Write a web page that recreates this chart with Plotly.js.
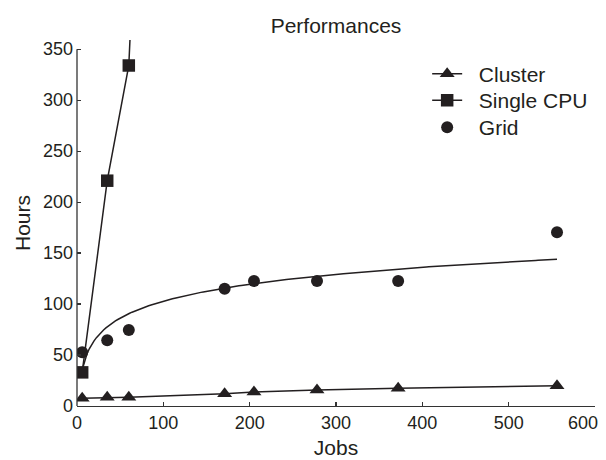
<!DOCTYPE html>
<html><head><meta charset="utf-8">
<script src="https://cdn.plot.ly/plotly-3.0.1.min.js"></script>
<style>body{margin:0;background:#fff}</style></head>
<body><div id="chart" style="width:606px;height:460px"></div>
<script>
// Data
const jobs = [6, 35, 60, 171, 205, 278, 372, 556];
const clusterHours = [7.5, 8.5, 8.7, 12, 13.7, 15.7, 17.5, 19.8];
const singleJobs = [6, 35, 60, 171];
const singleHours = [33, 221, 334, 2400];
const gridHours = [52.7, 64.5, 74.6, 115, 122.5, 122.5, 122.5, 170.5];
const seriesNames = ['Cluster', 'Single CPU', 'Grid'];
const xTicks = [0, 100, 200, 300, 400, 500, 600];
const yTicks = [0, 50, 100, 150, 200, 250, 300, 350];
// the last x label is kept inside the picture, as in the reference
const xTickText = xTicks.map((v, i) => i === xTicks.length - 1 ? '' : String(v));
const lastXTick = xTicks[xTicks.length - 1];

// Logarithmic trend line fitted to the Grid series
function logFit(xs, ys) {
  const lx = xs.map(Math.log);
  const n = xs.length;
  const mx = lx.reduce((a, b) => a + b, 0) / n;
  const my = ys.reduce((a, b) => a + b, 0) / n;
  let sxy = 0, sxx = 0;
  for (let i = 0; i < n; i++) { sxy += (lx[i] - mx) * (ys[i] - my); sxx += (lx[i] - mx) ** 2; }
  const b = sxy / sxx, a = my - b * mx;
  const x0 = Math.min(...xs), x1 = Math.max(...xs);
  const fx = [], fy = [];
  for (let i = 0; i <= 200; i++) { const x = x0 + (x1 - x0) * i / 200; fx.push(x); fy.push(a + b * Math.log(x)); }
  return {fx, fy};
}
const fit = logFit(jobs, gridHours);

const ink = '#231f20';
const font = 'Liberation Sans, Arial, Helvetica, sans-serif';
const pad = '\u00a0\u00a0';

const traces = [
  {x: jobs, y: clusterHours, name: pad + seriesNames[0], type: 'scatter', mode: 'lines+markers', legend: 'legend',
   line: {color: ink, width: 1.5}, marker: {symbol: 'triangle-up', size: 13, color: ink}},
  {x: singleJobs, y: singleHours, name: pad + seriesNames[1], type: 'scatter', mode: 'lines+markers', legend: 'legend2',
   line: {color: ink, width: 1.5}, marker: {symbol: 'square', size: 12.5, color: ink}},
  {x: fit.fx, y: fit.fy, type: 'scatter', mode: 'lines', showlegend: false, hoverinfo: 'skip',
   line: {color: ink, width: 1.5}},
  {x: jobs, y: gridHours, name: pad + seriesNames[2], type: 'scatter', mode: 'markers', legend: 'legend3',
   marker: {symbol: 'circle', size: 12, color: ink}}
];

function leg(yc) {
  return {x: 0.676, y: yc, xanchor: 'left', yanchor: 'middle', bgcolor: 'rgba(0,0,0,0)',
          font: {size: 21, family: font, color: ink}};
}

const layout = {
  width: 606, height: 460,
  margin: {l: 77, r: 11, t: 40, b: 54},
  paper_bgcolor: '#fff', plot_bgcolor: '#fff',
  font: {family: font, color: ink, size: 18},
  title: {text: 'Performances', font: {size: 21, family: font, color: ink}, x: 0.5, xref: 'paper', y: 0.945, yanchor: 'middle'},
  xaxis: {range: [0, 600], tickvals: xTicks, ticktext: xTickText, ticks: 'inside', ticklen: 4, tickwidth: 1.2, tickcolor: '#333',
          showline: true, linecolor: '#333', linewidth: 1.3, showgrid: false, zeroline: false,
          tickfont: {size: 18}, title: {text: 'Jobs', font: {size: 21}, standoff: 8}},
  yaxis: {range: [0, 359], tickvals: yTicks, ticks: 'inside', ticklen: 4, tickwidth: 1.2, tickcolor: '#333',
          ticklabelstandoff: 3,
          showline: false, showgrid: false, zeroline: false,
          tickfont: {size: 18}, title: {text: 'Hours', font: {size: 21}, standoff: 6}},
  shapes: [{type: 'line', xref: 'paper', yref: 'y', x0: 0, x1: 0, y0: 0, y1: yTicks[yTicks.length - 1],
            line: {color: '#333', width: 1.3}}],
  annotations: [{text: String(lastXTick), x: lastXTick, xref: 'x', y: 0, yref: 'y', xanchor: 'right', yanchor: 'top',
                 xshift: 5, yshift: -5, showarrow: false, font: {size: 18, family: font, color: ink}}],
  legend: leg(0.9071),
  legend2: leg(0.8347),
  legend3: leg(0.7609),
  showlegend: true
};

Plotly.newPlot('chart', traces, layout, {displayModeBar: false, staticPlot: true});
</script></body></html>
